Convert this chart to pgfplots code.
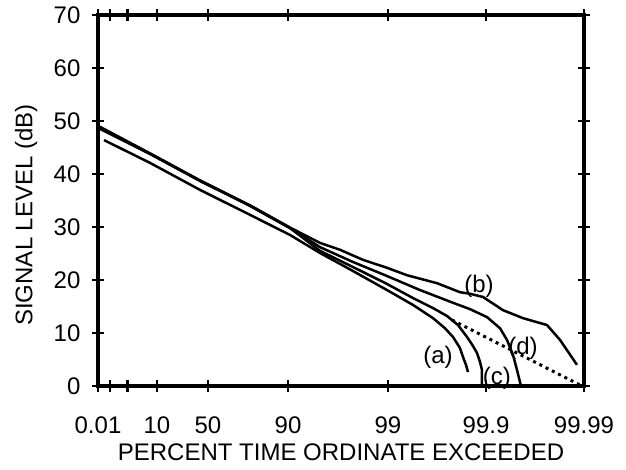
\documentclass[border=0pt]{standalone}
\usepackage{pgfplots}
\pgfplotsset{compat=1.18}
\usepackage{fontspec}
\setmainfont{Liberation Sans}
\begin{document}
\fontsize{24bp}{28bp}\selectfont
\begin{tikzpicture}
\path[use as bounding box] (-98bp,-84bp) rectangle (528bp,386bp);
\begin{axis}[
  at={(0,0)}, anchor=south west,
  scale only axis, width=486bp, height=371bp,
  xmin=-0.9643, xmax=4.0, ymin=0, ymax=70,
  xtick={-0.9643,-0.8393,-0.6633,-0.3622,0.1592,0.9773,1.9978,2.9998,4.0},
  xticklabels={0.01,,,10,50,90,99,99.9,99.99},
  ytick={0,10,20,30,40,50,60,70},
  tick align=center, major tick length=12bp,
  line width=3.2bp,
  axis line style={line width=3.2bp},
  every tick/.style={line width=2.2bp, black},
  /pgf/number format/assume math mode=true,
  tick label style={font=\fontsize{24bp}{28bp}\selectfont},
  xticklabel style={yshift=-15bp},
  yticklabel style={xshift=-2bp},
  label style={font=\fontsize{24bp}{28bp}\selectfont},
  xlabel={PERCENT TIME ORDINATE EXCEEDED},
  xlabel style={at={(axis description cs:0.5,0)}, anchor=base, yshift=-74bp},
  ylabel={SIGNAL LEVEL (dB)},
  ylabel style={at={(axis description cs:-0.148,0.461)}, anchor=center},
  clip=false,
]
% curve (a)
\addplot[black, line width=2.5bp] coordinates {
(-0.903,46.4) (-0.433,42.1) (0.078,37.0) (0.588,32.3) (0.997,28.5)
(1.303,25.1) (1.640,21.7) (1.988,18.1) (2.253,15.3) (2.458,12.8)
(2.580,10.9) (2.662,9.25) (2.733,7.17) (2.764,5.47) (2.795,3.96) (2.815,2.64)};
% curve (c)
\addplot[black, line width=2.5bp] coordinates {
(-0.954,48.6) (-0.433,43.8) (0.078,38.7) (0.588,34.0) (0.997,29.8)
(1.303,25.5) (1.640,22.45) (1.988,19.25) (2.253,16.6) (2.458,14.7)
(2.601,13.2) (2.713,11.5) (2.805,9.25) (2.866,7.55) (2.907,6.23)
(2.938,4.53) (2.958,3.0) (2.958,0)};
% curve (d)
\addplot[black, line width=2.5bp] coordinates {
(-0.954,48.8) (-0.433,43.8) (0.078,38.7) (0.588,34.0) (0.997,29.8)
(1.303,26.2) (1.640,23.4) (1.988,20.75) (2.325,18.1) (2.662,15.7)
(2.836,14.5) (3.009,13.0) (3.142,10.9) (3.213,8.7) (3.275,5.85)
(3.316,3.0) (3.356,0)};
% curve (b)
\addplot[black, line width=2.5bp] coordinates {
(-0.954,49.0) (-0.433,43.9) (0.078,38.8) (0.588,34.1) (0.997,29.9)
(1.303,27.0) (1.508,25.7) (1.743,23.8) (1.988,22.3) (2.192,20.9)
(2.498,19.4) (2.733,17.7) (2.836,17.4) (2.968,16.8) (3.173,14.3)
(3.377,12.8) (3.622,11.5) (3.755,8.7) (3.928,4.0)};
% dotted theory line
\addplot[black, line width=3bp, dash pattern=on 3bp off 4bp] coordinates {
(2.652,12.45) (3.980,0)};
\node at (axis cs:2.509,5.47) {(a)};
\node at (axis cs:2.927,18.9) {(b)};
\node at (axis cs:3.111,1.5) {(c)};
\node at (axis cs:3.377,7.2) {(d)};
\end{axis}
\end{tikzpicture}
\end{document}
